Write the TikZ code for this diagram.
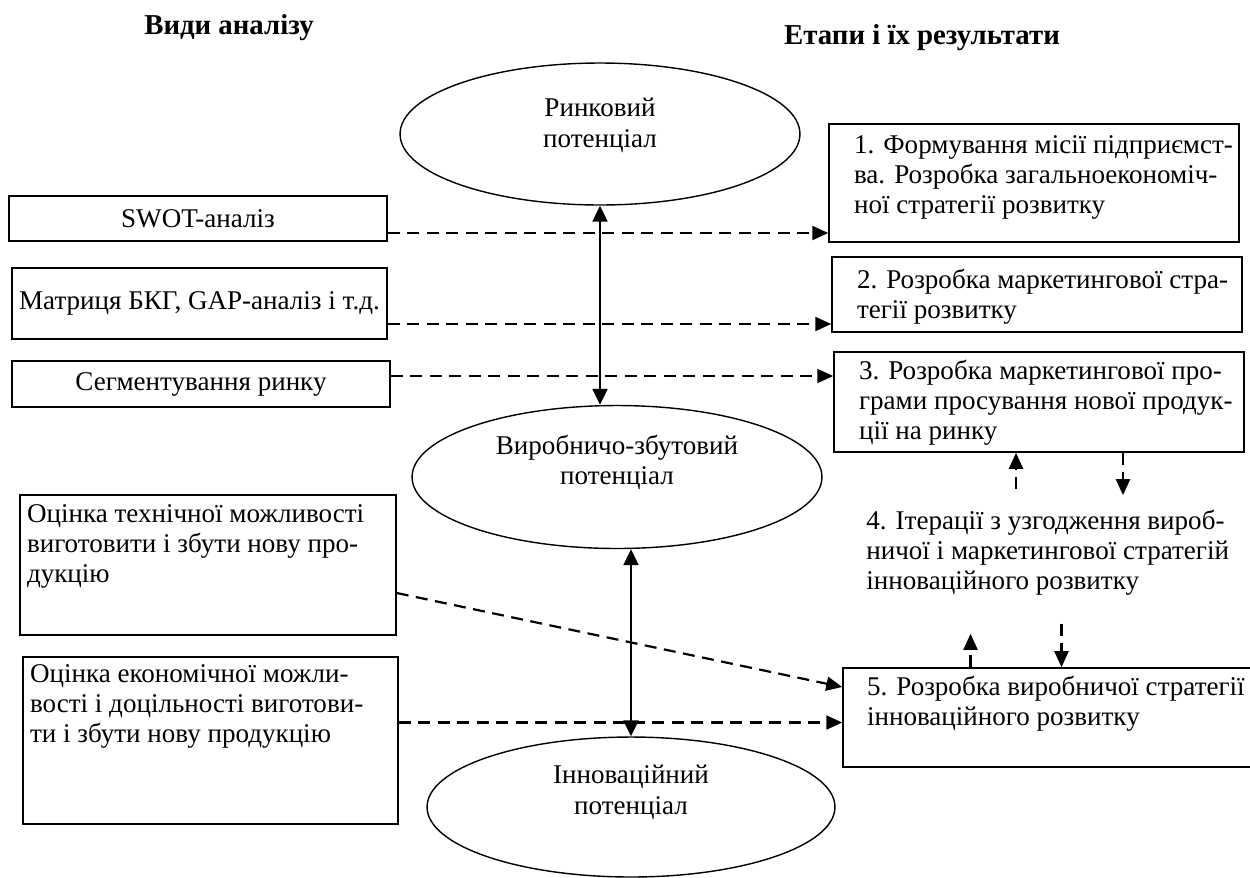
\documentclass[tikz,border=0pt]{standalone}
\usepackage{fontspec}
\setmainfont{Liberation Serif}
\usetikzlibrary{shapes.geometric,arrows.meta}
\newcommand{\celltxt}[4]{\hspace*{#1}\parbox[t][#3][t]{#2}{\raggedright #4}}
\tikzset{
	box/.style={draw, line width=0.9pt, inner xsep=0pt},
	pot/.style={draw, ellipse, line width=0.8pt, inner sep=0pt},
	link/.style={line width=1.25pt, dash pattern=on 0.24cm off 0.15cm, -{Triangle[length=0.32cm,width=0.28cm]}},
	dual/.style={line width=1.25pt, {Triangle[length=0.32cm,width=0.3cm]}-{Triangle[length=0.32cm,width=0.3cm]}}
}
\begin{document}
\begin{tikzpicture}[x=0.02cm, y=-0.02cm, font=\fontsize{15.4}{17}\selectfont]
		\useasboundingbox (0,0) rectangle (1250,877);
		\node[font=\fontsize{16.4}{18}\selectfont\bfseries] (tleft) at (229,28) {Види аналізу};
		\node[font=\fontsize{16.4}{18}\selectfont\bfseries] (tright) at (922,38) {Етапи і їх результати};
		\node[pot, minimum width=8cm, minimum height=2.84cm] (rynok) at (600,134) {};
		\node[pot, minimum width=8.2cm, minimum height=2.86cm] (vyrob) at (617,477) {};
		\node[pot, minimum width=8.16cm, minimum height=2.8cm] (innov) at (631,807) {};
		\node[align=center, font=\fontsize{15.4}{18}\selectfont] (rynoktxt) at ([yshift=0.17cm]rynok.center) {Ринковий\\потенціал};
		\node[align=center] (vyrobtxt) at ([yshift=0.3cm]vyrob.center) {Виробничо-збутовий\\потенціал};
		\node[align=center, font=\fontsize{15.4}{18}\selectfont] (innovtxt) at ([yshift=0.29cm]innov.center) {Інноваційний\\потенціал};
		\node[box, minimum width=7.56cm, minimum height=0.9cm] (swot) at (198,218.5) {SWOT-аналіз};
		\node[box, minimum width=7.5cm, minimum height=1.42cm] (bkg) at (199.5,303.5) {Матриця БКГ, GAP-аналіз і т.д.};
		\node[box, minimum width=7.56cm, minimum height=0.92cm] (segm) at (201,384) {Сегментування ринку};
		\node[box, inner ysep=0.2cm] (otech) at (208,565) {\celltxt{0.14cm}{7.38cm}{2.4cm}{Оцінка технічної можливості\\виготовити і збути нову про-\\дукцію}};
		\node[box, inner ysep=0.16cm] (oekon) at (210.5,740.5) {\celltxt{0.14cm}{7.36cm}{3.02cm}{Оцінка економічної можли-\\вості і доцільності виготови-\\ти і збути нову продукцію}};
		\node[box, inner ysep=0.24cm] (st1) at (1034,183) {\celltxt{0.5cm}{7.7cm}{1.88cm}{1. Формування місії підприємст-\\ва. Розробка загальноекономіч-\\ної стратегії розвитку}};
		\node[box, inner ysep=0.24cm] (st2) at (1037,294.5) {\celltxt{0.5cm}{7.7cm}{1.02cm}{2. Розробка маркетингової стра-\\тегії розвитку}};
		\node[box, inner ysep=0.16cm] (st3) at (1039,402) {\celltxt{0.5cm}{7.7cm}{1.68cm}{3. Розробка маркетингової про-\\грами просування нової продук-\\ції на ринку}};
		\node[align=left, anchor=west, inner sep=0pt] (st4) at (866,553) {4. Ітерації з узгодження вироб-\\ничої і маркетингової стратегій\\інноваційного розвитку};
		\node[box, inner ysep=0.16cm] (st5) at (1071.5,717.5) {\celltxt{0.48cm}{8.66cm}{1.66cm}{5. Розробка виробничої стратегії\\інноваційного розвитку}};
		\draw[dual] (rynok.south) -- (rynok.south |- vyrob.north);
		\draw[dual] (vyrob.south -| innov.north) -- (innov.north);
		\draw[link] ([yshift=-0.29cm]swot.east) -- ([yshift=-0.29cm]swot.east -| st1.west);
		\draw[link] ([yshift=-0.41cm]bkg.east) -- ([yshift=-0.41cm]bkg.east -| st2.west);
		\draw[link] ([yshift=0.16cm]segm.east) -- ([yshift=0.16cm]segm.east -| st3.west);
		\draw[link] ([yshift=-0.56cm]otech.east) -- ([yshift=0.61cm]st5.west);
		\draw[link] ([yshift=0.36cm]oekon.east) -- ([yshift=0.36cm]oekon.east -| st5.west);
		\draw[link, shorten <=0.42cm] ([xshift=-0.46cm]st3.south |- st4.north) -- ([xshift=-0.46cm]st3.south);
		\draw[link, shorten >=0.3cm] ([xshift=1.68cm]st3.south) -- ([xshift=1.68cm]st3.south |- st4.north);
		\draw[link, shorten >=0.76cm] ([xshift=-2.02cm]st5.north) -- ([xshift=-2.02cm]st5.north |- st4.south);
		\draw[link, shorten <=0.56cm] ([xshift=-0.2cm]st5.north |- st4.south) -- ([xshift=-0.2cm]st5.north);
\end{tikzpicture}
\end{document}
